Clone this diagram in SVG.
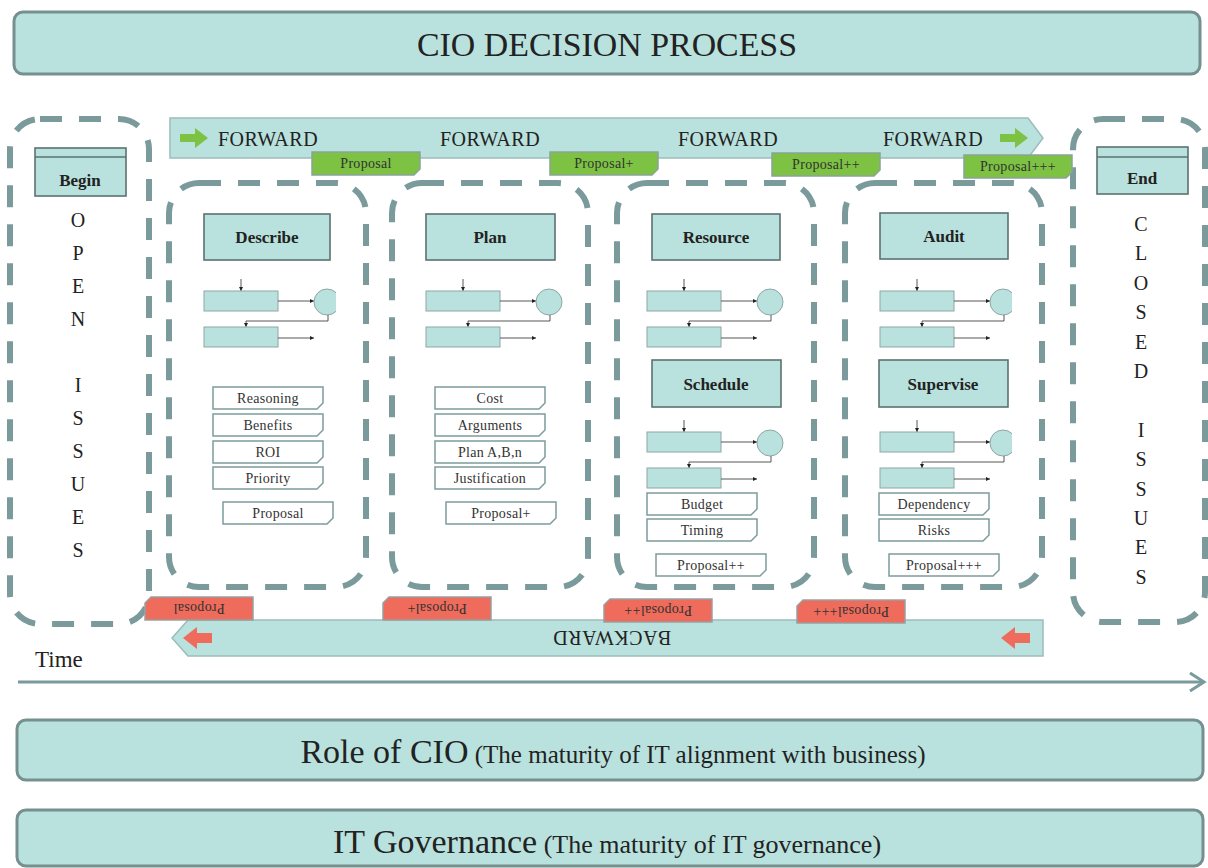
<svg xmlns="http://www.w3.org/2000/svg" xmlns:xlink="http://www.w3.org/1999/xlink" width="1208" height="868" viewBox="0 0 1208 868">
  <style>
    text { font-family: "Liberation Serif", "Times New Roman", serif; fill: #222; }
    .bar { fill: #b9e1dd; stroke: #76908f; stroke-width: 3; }
    .lane { fill: none; stroke: #7b9a9c; stroke-width: 6; stroke-dasharray: 22 17; }
    .node { fill: #b9e1dd; stroke: #5b7272; stroke-width: 1.6; }
    .label { font-size: 17px; font-weight: bold; text-anchor: middle; }
    .letter { font-size: 20px; text-anchor: middle; }
    .banner { fill: #b9e1dd; stroke: #9cbcbc; stroke-width: 1.5; }
    .fwd { font-size: 20px; text-anchor: middle; letter-spacing: 0.5px; }
    .tag { fill: #ffffff; stroke: #7e9c9c; stroke-width: 1.5; }
    .gtag { fill: #7dc242; stroke: #8aa39a; stroke-width: 1.5; }
    .rtag { fill: #ef6b5b; stroke: #9aa0a0; stroke-width: 1.5; }
    .tagtext { font-size: 14px; text-anchor: middle; fill: #333; letter-spacing: 0.3px; }
    .flowbox { fill: #b9e1dd; stroke: #8fa6a6; stroke-width: 1; }
    .flowline { fill: none; stroke: #444; stroke-width: 0.9; }
  </style>
  <defs>
    <marker id="tip" viewBox="0 0 6 6" refX="6" refY="3" markerWidth="5" markerHeight="5" orient="auto">
      <path d="M0,0 L6,3 L0,6 Z" fill="#222"/>
    </marker>
    <path id="tagshape" d="M0,0 H110 V16 L104,22 H0 Z"/>
    <path id="proptag" d="M0,0 H108 V17 L102,23 H0 Z"/>
    <clipPath id="cut">
      <rect x="-10" y="-20" width="142" height="90"/>
    </clipPath>
    <!-- mini process icon: two steps, a decision circle and the links between them -->
    <g id="flowFull">
      <line class="flowline" x1="37" y1="-12" x2="37" y2="0" marker-end="url(#tip)"/>
      <rect class="flowbox" x="0" y="0" width="74" height="20"/>
      <line class="flowline" x1="74" y1="10" x2="110" y2="10" marker-end="url(#tip)"/>
      <circle class="flowbox" cx="123" cy="11" r="13" stroke="#7e9898"/>
      <polyline class="flowline" points="124,24 124,30 42,30 42,36" marker-end="url(#tip)"/>
      <rect class="flowbox" x="0" y="36" width="74" height="20"/>
      <line class="flowline" x1="74" y1="47" x2="110" y2="47" marker-end="url(#tip)"/>
    </g>
    <g id="flowCut">
      <line class="flowline" x1="37" y1="-12" x2="37" y2="0" marker-end="url(#tip)"/>
      <rect class="flowbox" x="0" y="0" width="74" height="20"/>
      <line class="flowline" x1="74" y1="10" x2="110" y2="10" marker-end="url(#tip)"/>
      <circle class="flowbox" cx="123" cy="11" r="13" stroke="#7e9898" clip-path="url(#cut)"/>
      <polyline class="flowline" points="124,24 124,30 42,30 42,36" marker-end="url(#tip)"/>
      <rect class="flowbox" x="0" y="36" width="74" height="20"/>
      <line class="flowline" x1="74" y1="47" x2="110" y2="47" marker-end="url(#tip)"/>
    </g>
  </defs>

  <rect width="1208" height="868" fill="#ffffff"/>

  <!-- header -->
  <g id="title">
    <rect class="bar" x="14" y="12" width="1186" height="62" rx="9"/>
    <text x="607" y="56" font-size="34" text-anchor="middle" textLength="380" lengthAdjust="spacingAndGlyphs">CIO DECISION PROCESS</text>
  </g>

  <!-- open issues lane -->
  <g id="open-issues">
    <rect class="lane" x="10" y="119" width="139" height="505" rx="30"/>
    <rect class="node" x="35" y="148" width="91" height="48"/>
    <line x1="35" y1="157" x2="126" y2="157" stroke="#5b7272" stroke-width="1.6"/>
    <text class="label" x="80" y="186">Begin</text>
    <text class="letter" x="78" y="227">O</text>
    <text class="letter" x="78" y="260">P</text>
    <text class="letter" x="78" y="293">E</text>
    <text class="letter" x="78" y="326">N</text>
    <text class="letter" x="78" y="392">I</text>
    <text class="letter" x="78" y="425">S</text>
    <text class="letter" x="78" y="458">S</text>
    <text class="letter" x="78" y="491">U</text>
    <text class="letter" x="78" y="524">E</text>
    <text class="letter" x="78" y="557">S</text>
  </g>

  <!-- closed issues lane -->
  <g id="closed-issues">
    <rect class="lane" x="1073" y="119" width="132" height="503" rx="30"/>
    <rect class="node" x="1097" y="147" width="91" height="47"/>
    <line x1="1097" y1="157" x2="1188" y2="157" stroke="#5b7272" stroke-width="1.6"/>
    <text class="label" x="1142" y="184">End</text>
    <text class="letter" x="1141" y="231">C</text>
    <text class="letter" x="1141" y="260">L</text>
    <text class="letter" x="1141" y="290">O</text>
    <text class="letter" x="1141" y="319">S</text>
    <text class="letter" x="1141" y="349">E</text>
    <text class="letter" x="1141" y="378">D</text>
    <text class="letter" x="1141" y="437">I</text>
    <text class="letter" x="1141" y="466">S</text>
    <text class="letter" x="1141" y="496">S</text>
    <text class="letter" x="1141" y="525">U</text>
    <text class="letter" x="1141" y="554">E</text>
    <text class="letter" x="1141" y="584">S</text>
  </g>

  <!-- forward flow banner -->
  <g id="forward">
    <polygon class="banner" points="170,118 1028,118 1043,138 1028,158 170,158"/>
    <polygon fill="#7dc242" points="180,134 195,134 195,128 208,138 195,148 195,142 180,142"/>
    <polygon fill="#7dc242" points="1000,134 1015,134 1015,128 1028,138 1015,148 1015,142 1000,142"/>
    <text class="fwd" x="268" y="146">FORWARD</text>
    <text class="fwd" x="490" y="146">FORWARD</text>
    <text class="fwd" x="728" y="146">FORWARD</text>
    <text class="fwd" x="933" y="146">FORWARD</text>
    <use xlink:href="#proptag" class="gtag" x="312" y="152"/>
    <text class="tagtext" x="366" y="168">Proposal</text>
    <use xlink:href="#proptag" class="gtag" x="550" y="152"/>
    <text class="tagtext" x="604" y="168">Proposal+</text>
    <use xlink:href="#proptag" class="gtag" x="772" y="153"/>
    <text class="tagtext" x="826" y="169">Proposal++</text>
    <use xlink:href="#proptag" class="gtag" x="964" y="155"/>
    <text class="tagtext" x="1018" y="171">Proposal+++</text>
  </g>

  <!-- stage: describe -->
  <g id="stage-describe">
    <rect class="lane" x="169" y="183" width="197" height="404" rx="30"/>
    <rect class="node" x="204" y="214" width="126" height="46"/>
    <text class="label" x="267" y="243">Describe</text>
    <use xlink:href="#flowCut" x="204" y="291"/>
    <use xlink:href="#tagshape" class="tag" x="213" y="387"/>
    <text class="tagtext" x="268" y="403">Reasoning</text>
    <use xlink:href="#tagshape" class="tag" x="213" y="414"/>
    <text class="tagtext" x="268" y="430">Benefits</text>
    <use xlink:href="#tagshape" class="tag" x="213" y="441"/>
    <text class="tagtext" x="268" y="457">ROI</text>
    <use xlink:href="#tagshape" class="tag" x="213" y="467"/>
    <text class="tagtext" x="268" y="483">Priority</text>
    <use xlink:href="#tagshape" class="tag" x="223" y="502"/>
    <text class="tagtext" x="278" y="518">Proposal</text>
  </g>

  <!-- stage: plan -->
  <g id="stage-plan">
    <rect class="lane" x="392" y="183" width="196" height="404" rx="30"/>
    <rect class="node" x="426" y="214" width="129" height="46"/>
    <text class="label" x="490" y="243">Plan</text>
    <use xlink:href="#flowFull" x="426" y="291"/>
    <use xlink:href="#tagshape" class="tag" x="435" y="387"/>
    <text class="tagtext" x="490" y="403">Cost</text>
    <use xlink:href="#tagshape" class="tag" x="435" y="414"/>
    <text class="tagtext" x="490" y="430">Arguments</text>
    <use xlink:href="#tagshape" class="tag" x="435" y="441"/>
    <text class="tagtext" x="490" y="457">Plan A,B,n</text>
    <use xlink:href="#tagshape" class="tag" x="435" y="467"/>
    <text class="tagtext" x="490" y="483">Justification</text>
    <use xlink:href="#tagshape" class="tag" x="446" y="502"/>
    <text class="tagtext" x="501" y="518">Proposal+</text>
  </g>

  <!-- stage: resource / schedule -->
  <g id="stage-resource">
    <rect class="lane" x="617" y="183" width="197" height="404" rx="30"/>
    <rect class="node" x="652" y="214" width="128" height="46"/>
    <text class="label" x="716" y="243">Resource</text>
    <use xlink:href="#flowFull" x="647" y="291"/>
    <rect class="node" x="652" y="360" width="129" height="47"/>
    <text class="label" x="716" y="390">Schedule</text>
    <use xlink:href="#flowFull" x="647" y="432"/>
    <use xlink:href="#tagshape" class="tag" x="647" y="493"/>
    <text class="tagtext" x="702" y="509">Budget</text>
    <use xlink:href="#tagshape" class="tag" x="647" y="519"/>
    <text class="tagtext" x="702" y="535">Timing</text>
    <use xlink:href="#tagshape" class="tag" x="656" y="554"/>
    <text class="tagtext" x="711" y="570">Proposal++</text>
  </g>

  <!-- stage: audit / supervise -->
  <g id="stage-audit">
    <rect class="lane" x="845" y="183" width="197" height="404" rx="30"/>
    <rect class="node" x="880" y="213" width="128" height="46"/>
    <text class="label" x="944" y="242">Audit</text>
    <use xlink:href="#flowCut" x="880" y="291"/>
    <rect class="node" x="879" y="360" width="129" height="47"/>
    <text class="label" x="943" y="390">Supervise</text>
    <use xlink:href="#flowCut" x="880" y="432"/>
    <use xlink:href="#tagshape" class="tag" x="879" y="493"/>
    <text class="tagtext" x="934" y="509">Dependency</text>
    <use xlink:href="#tagshape" class="tag" x="879" y="519"/>
    <text class="tagtext" x="934" y="535">Risks</text>
    <use xlink:href="#tagshape" class="tag" x="889" y="554"/>
    <text class="tagtext" x="944" y="570">Proposal+++</text>
  </g>

  <!-- backward flow banner (printed upside down) -->
  <g id="backward">
    <polygon class="banner" points="172,638 188,620 1043,620 1043,656 188,656"/>
    <polygon fill="#ef6b5b" points="212,633 197,633 197,627 183,638 197,649 197,643 212,643"/>
    <polygon fill="#ef6b5b" points="1030,633 1015,633 1015,627 1001,638 1015,649 1015,643 1030,643"/>
    <text class="fwd" x="612" y="643" transform="rotate(180 612 637)">BACKWARD</text>
    <g transform="rotate(180 199 609)">
      <use xlink:href="#proptag" class="rtag" x="145" y="598"/>
      <text class="tagtext" x="199" y="614">Proposal</text>
    </g>
    <g transform="rotate(180 437 609)">
      <use xlink:href="#proptag" class="rtag" x="383" y="598"/>
      <text class="tagtext" x="437" y="614">Proposal+</text>
    </g>
    <g transform="rotate(180 658 611)">
      <use xlink:href="#proptag" class="rtag" x="604" y="600"/>
      <text class="tagtext" x="658" y="616">Proposal++</text>
    </g>
    <g transform="rotate(180 851 612)">
      <use xlink:href="#proptag" class="rtag" x="797" y="601"/>
      <text class="tagtext" x="851" y="617">Proposal+++</text>
    </g>
  </g>

  <!-- time axis -->
  <g id="connectors">
    <line x1="18" y1="682" x2="1203" y2="682" stroke="#7b9a9c" stroke-width="3"/>
    <polyline points="1190,673 1204,682 1190,691" fill="none" stroke="#7b9a9c" stroke-width="3"/>
  </g>
  <text x="35" y="667" font-size="23">Time</text>

  <!-- context bars -->
  <g id="role-of-cio">
    <rect class="bar" x="17" y="720" width="1186" height="60" rx="9"/>
    <text x="613" y="763" text-anchor="middle"><tspan font-size="34">Role of CIO</tspan><tspan font-size="25"> (The maturity of IT alignment with business)</tspan></text>
  </g>
  <g id="it-governance">
    <rect class="bar" x="17" y="810" width="1186" height="56" rx="9"/>
    <text x="607" y="853" text-anchor="middle"><tspan font-size="34">IT Governance</tspan><tspan font-size="26"> (The maturity of  IT governance)</tspan></text>
  </g>
</svg>
